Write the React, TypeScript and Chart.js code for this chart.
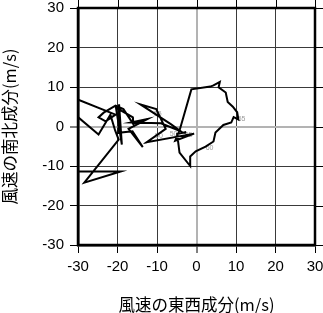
import React, { useEffect, useRef } from "react";
import { Chart, registerables } from "chart.js";

Chart.register(...registerables);

// Hodograph: east-west (u) and north-south (v) wind components, m/s
const windU = [
  -2.6, -4.9, -4.3, -1.6, -1.6, -0.2, 2.3, 4.3, 4.8, 6.8, 8.8, 9.4, 10.6, 10.3, 9.2, 7.9, 7.4, 5.6, 5.9, 4.3,
  3.5, -1.3, -4.2, -5.4, -0.6, -12.6, -7.8, -10.2, -14.2, -6.5, -4.0, -9.0, -16.6, -12.4, -17.2, -13.6, -16.2,
  -19.8, -19.6, -18.9, -20.4, -16.1, -16.0, -18.5, -20.5, -23.5, -24.8, -23.0, -20.5, -33.0, -33.0, -24.8,
  -21.8, -20.6, -19.7, -28.4, -19.2, -33.0,
];
const windV = [
  -1.4, -1.9, -6.6, -10.0, -7.6, -6.3, -5.1, -3.8, -1.5, 0.4, 1.0, 2.4, 1.8, 3.6, 5.0, 6.2, 8.6, 9.9, 11.3, 10.4,
  10.1, 9.4, -0.7, -3.6, -1.8, -4.0, -0.6, 4.4, 5.6, 0.6, -1.2, 0.8, 1.0, 1.9, -0.6, -5.2, -1.2,
  -1.6, 5.6, -4.6, 4.8, 2.3, 0.6, 4.4, 5.3, 3.5, 2.3, 1.3, 3.0, 8.0, 4.9, -2.0,
  3.0, -1.0, -3.3, -14.2, -11.4, -11.4,
];

// small grey level labels along the hodograph
const levelText = ["50", "50", "55", "60", "55", "55"];
const levelU = [-9.5, -5.8, -2.0, 3.3, 11.4, -9.8];
const levelV = [-2.3, -1.9, -2.1, -5.4, 2.0, 3.2];

const axisTicks = [-30, -20, -10, 0, 10, 20, 30];
const xTitle = "風速の東西成分(m/s)";
const yTitle = "風速の南北成分(m/s)";

const TICK_FONT = { family: "'Liberation Sans', Arial, sans-serif", size: 15, lineHeight: 1 };
const TITLE_FONT = { family: "'Noto Sans CJK JP', 'Liberation Sans', sans-serif", size: 16.5 };

const gridColor = (c: any) => (c.tick && c.tick.value === 0 ? "#b3b3b3" : "#3a3a3a");
const gridWidth = (c: any) => (c.tick && c.tick.value === 0 ? 2 : 1);

const labelPlugin = {
  id: "levelLabels",
  beforeDatasetsDraw(chart: any) {
    const { ctx, scales } = chart;
    ctx.save();
    ctx.font = "7px 'Liberation Sans', Arial, sans-serif";
    ctx.fillStyle = "#9a9a9a";
    ctx.textAlign = "center";
    ctx.textBaseline = "middle";
    levelText.forEach((t, i) => {
      ctx.fillText(t, scales.x.getPixelForValue(levelU[i]), scales.y.getPixelForValue(levelV[i]));
    });
    ctx.restore();
  },
};

const framePlugin = {
  id: "frame",
  afterDraw(chart: any) {
    const { ctx, chartArea: a, scales } = chart;
    ctx.save();
    ctx.strokeStyle = "#000";
    ctx.lineWidth = 1;
    for (const v of axisTicks) {
      const x = Math.round(scales.x.getPixelForValue(v)) + 0.5;
      ctx.beginPath();
      ctx.moveTo(x, a.top);
      ctx.lineTo(x, a.top - 8);
      ctx.stroke();
      const y = Math.round(scales.y.getPixelForValue(v)) + 0.5;
      ctx.beginPath();
      ctx.moveTo(a.right, y);
      ctx.lineTo(a.right + 8, y);
      ctx.stroke();
    }
    ctx.lineWidth = 2.5;
    ctx.strokeRect(a.left, a.top, a.right - a.left, a.bottom - a.top);
    ctx.restore();
  },
};

export default function App() {
  const ref = useRef<HTMLCanvasElement>(null);

  useEffect(() => {
    const data = windU.map((u, i) => ({ x: u, y: windV[i] }));
    const chart = new Chart(ref.current as HTMLCanvasElement, {
      type: "line",
      data: {
        datasets: [
          {
            data,
            borderColor: "#000",
            borderWidth: 2,
            pointRadius: 0,
            tension: 0,
            fill: false,
          },
        ],
      },
      options: {
        animation: false,
        responsive: false,
        parsing: false,
        layout: { padding: 0 },
        plugins: { legend: { display: false }, tooltip: { enabled: false } },
        scales: {
          x: {
            type: "linear",
            min: -30,
            max: 30,
            afterFit: (s: any) => {
              s.height = 68;
              s.paddingLeft = 0;
              s.paddingRight = 8;
            },
            ticks: { stepSize: 10, color: "#000", font: TICK_FONT, padding: 6, maxRotation: 0 },
            grid: { color: gridColor, lineWidth: gridWidth, tickLength: 8, tickColor: "#000", tickWidth: 1 },
            border: { display: true, color: "#000", width: 2.5 },
            title: { display: true, text: xTitle, color: "#000", font: TITLE_FONT, padding: { top: 0, bottom: -1.5 } },
          },
          y: {
            type: "linear",
            min: -30,
            max: 30,
            afterFit: (s: any) => {
              s.width = 78;
              s.paddingTop = 8;
              s.paddingBottom = 0;
            },
            ticks: { stepSize: 10, color: "#000", font: TICK_FONT, padding: 6 },
            grid: { color: gridColor, lineWidth: gridWidth, tickLength: 8, tickColor: "#000", tickWidth: 1 },
            border: { display: true, color: "#000", width: 2.5 },
            title: { display: true, text: yTitle, color: "#000", font: TITLE_FONT, padding: { top: 0, bottom: 0 } },
          },
        },
      },
      plugins: [labelPlugin, framePlugin],
    });
    return () => chart.destroy();
  }, []);

  return (
    <div style={{ position: "fixed", left: 0, top: 0, width: 323, height: 313, background: "#fff" }}>
      <canvas ref={ref} width={323} height={313} style={{ display: "block" }} />
    </div>
  );
}
